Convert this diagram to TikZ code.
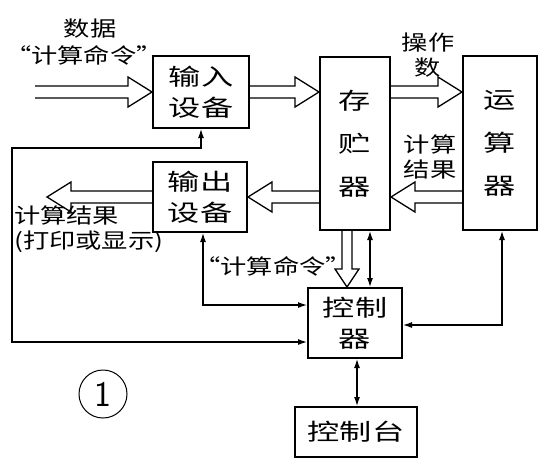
\documentclass[tikz,border=0pt]{standalone}
\usepackage{fontspec}
\newfontfamily\cjk[FakeStretch=1.4]{Noto Sans CJK SC}
\newfontfamily\cjknote[FakeStretch=1.25]{Noto Sans CJK SC}
\usetikzlibrary{arrows.meta,calc}
\tikzstyle{unit}=[draw,
                  line width=2pt,
                  align=center,
                  inner sep=0pt,
                  font=\cjk\fontsize{23}{31}\selectfont]
\tikzstyle{tall}=[unit,
                  font=\cjk\fontsize{23}{43}\selectfont]
\tikzstyle{lbl}=[align=center,
                 inner sep=0pt,
                 font=\cjknote\fontsize{21}{25}\selectfont]
\tikzstyle{link}=[line width=1.2pt,
                  >={Latex[length=9pt,width=6pt]},
                  <->]
\def\shaftw{6pt}\def\headw{15pt}\def\headl{24pt}
\tikzstyle{hollow}=[line width=1.3pt,
                    line join=miter,
                    to path={($(\tikztotarget)!\headl!(\tikztostart)$) coordinate (hb)
                      ($(\tikztostart)!\shaftw!90:(\tikztotarget)$) -- ($(hb)!\shaftw!90:(\tikztotarget)$)
                      -- ($(hb)!\headw!90:(\tikztotarget)$) -- (\tikztotarget)
                      -- ($(hb)!\headw!-90:(\tikztotarget)$) -- ($(hb)!\shaftw!-90:(\tikztotarget)$)
                      -- ($(\tikztostart)!\shaftw!-90:(\tikztotarget)$)}]
\tikzset{small head/.code={\def\shaftw{5pt}\def\headw{12pt}\def\headl{18pt}}}

\begin{document}
\begin{tikzpicture}[x=1pt,y=-1pt]
    \useasboundingbox (0,0) rectangle (548,467);
    \node[unit, minimum width=96pt, minimum height=72pt] (in) at (201,92) {输入\\设备};
    \node[tall, minimum width=70pt, minimum height=173pt] (st) at (355,143.5) {存\\贮\\器};
    \node[tall, minimum width=74pt, minimum height=174pt] (alu) at (500,143) {运\\算\\器};
    \node[unit, minimum width=94pt, minimum height=70pt] (out) at (200,197) {输出\\设备};
    \node[unit, minimum width=94pt, minimum height=70pt] (ctl) at (355,323) {控制\\器};
    \node[unit, minimum width=122pt, minimum height=50pt] (con) at (356,432) {控制台};
    \node[circle, draw, line width=1pt, minimum size=48pt, inner sep=0pt,
          font=\sffamily\fontsize{36}{36}\selectfont] (fig) at (103,394) {1};

    \node[lbl] (data) at (90,29) {数据};
    \node[lbl] (cmdin) at (84,55) {“计算命令”};
    \node[lbl] (operand) at (428,55) {操作\\数};
    \node[lbl] (result) at (430,157) {计算\\结果};
    \node[lbl, align=left, anchor=west] (print) at (14,229) {计算结果\\(打印或显示)};
    \node[lbl] (cmdout) at (273,266) {“计算命令”};

    % data paths
    \coordinate (feed) at (35,92);
    \coordinate (outleft) at (47,197);
    \coordinate (st-in) at (in.east -| st.west);
    \coordinate (st-top) at (in.east -| st.east);
    \coordinate (alu-top) at (in.east -| alu.west);
    \coordinate (alu-res) at (out.east -| alu.west);
    \coordinate (st-res) at (out.east -| st.east);
    \coordinate (st-out) at (out.east -| st.west);
    \coordinate (st-down) at ([xshift=-8pt]st.south);
    \coordinate (ctl-up) at (st-down |- ctl.north);
    \draw[hollow] (feed) to (in.west);
    \draw[hollow] (in.east) to (st-in);
    \draw[hollow] (st-top) to (alu-top);
    \draw[hollow] (alu-res) to (st-res);
    \draw[hollow] (st-out) to (out.east);
    \draw[hollow] (out.west) to (outleft);
    \draw[hollow, small head] (st-down) to (ctl-up);

    % control lines
    \coordinate (loop) at (12,148);
    \draw[link] ([xshift=15pt]st.south) -- ([xshift=15pt]ctl.north);
    \draw[link] ([xshift=2pt]alu.south) |- ([yshift=-2pt]ctl.east);
    \draw[link] ([xshift=3pt]out.south) |- ([yshift=18pt]ctl.west);
    \draw[link] (in.south) |- (loop) |- ([yshift=-19pt]ctl.west);
    \draw[link] ([xshift=2pt]ctl.south) -- ([xshift=1pt]con.north);
\end{tikzpicture}
\end{document}
